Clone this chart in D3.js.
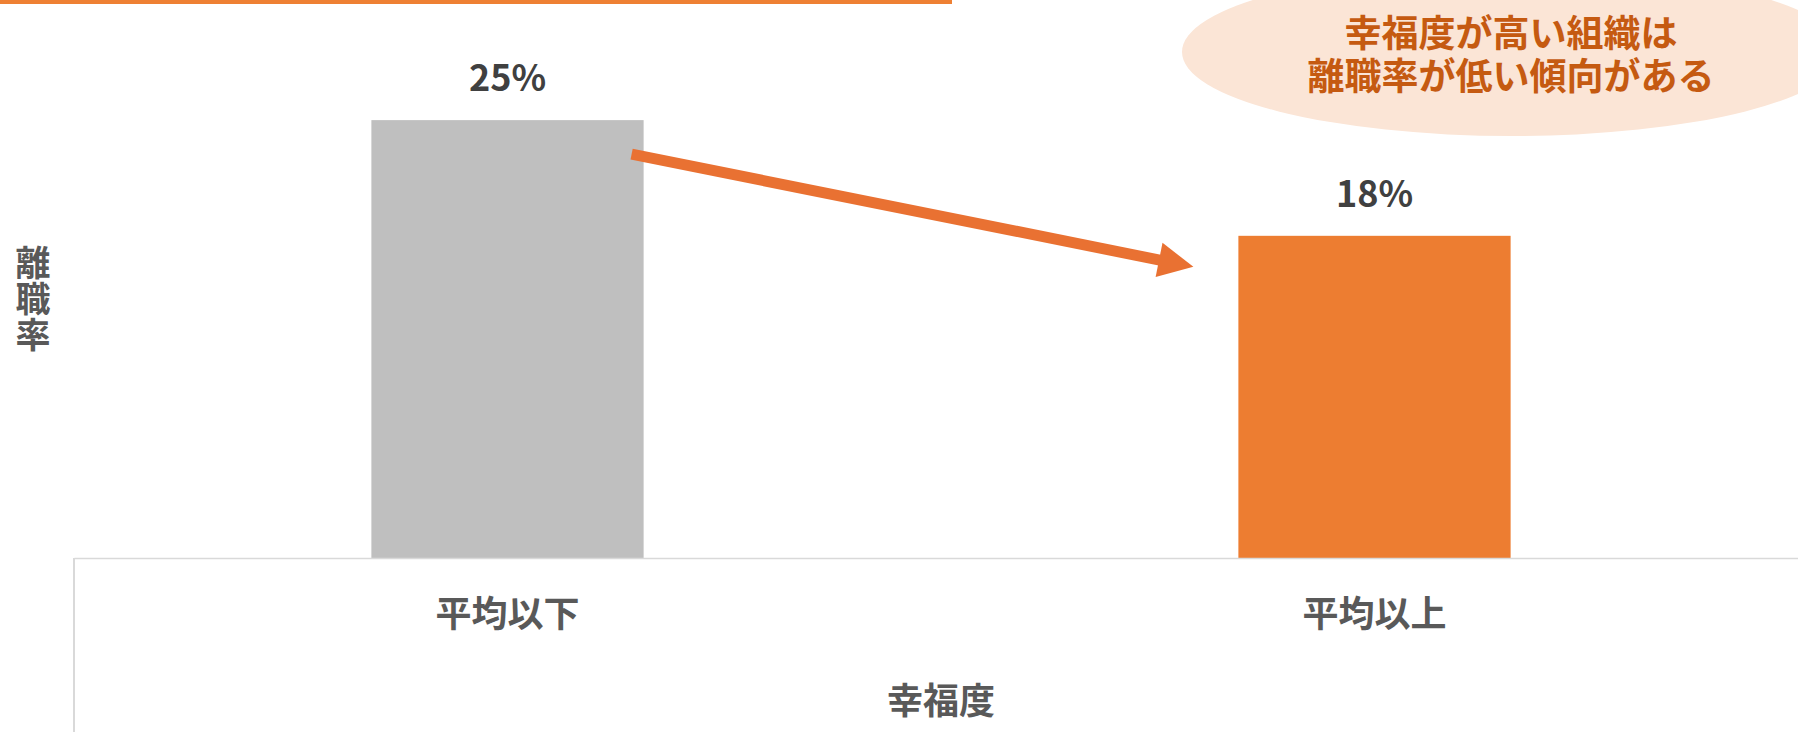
<!DOCTYPE html>
<html lang="ja">
<head>
<meta charset="utf-8">
<script src="https://cdn.jsdelivr.net/npm/d3@7"></script>
<style>
body { margin: 0; background: #fff; }
text { font-family: "Noto Sans CJK JP", "Noto Sans", sans-serif; }
</style>
</head>
<body>
<svg id="chart" width="1798" height="732"></svg>
<script>
// data
var categories = ["平均以下", "平均以上"];
var turnover = [0.246, 0.181];
var barColors = ["#bfbfbf", "#ed7d31"];
var xTitle = "幸福度";
var yTitle = "離職率";
var calloutLines = ["幸福度が高い組織は", "離職率が低い傾向がある"];

var svg = d3.select("#chart"),
    width = +svg.attr("width"),
    height = +svg.attr("height"),
    format = d3.format(".0%");

var baseY = 558;

var x = d3.scaleBand()
    .domain(categories)
    .range([74, 1808])
    .paddingInner(0.686)
    .paddingOuter(0.343);

var y = d3.scaleLinear()
    .domain([0, 0.3])
    .range([baseY, 24]);

// orange rule along the top
svg.append("rect")
    .attr("x", 0)
    .attr("y", 0)
    .attr("width", 952)
    .attr("height", 4)
    .attr("fill", "#ee8033");

// bars
svg.selectAll(".bar")
    .data(turnover)
  .enter().append("rect")
    .attr("class", "bar")
    .attr("x", function(d, i) { return x(categories[i]); })
    .attr("y", function(d) { return y(d); })
    .attr("width", x.bandwidth())
    .attr("height", function(d) { return baseY - y(d); })
    .attr("fill", function(d, i) { return barColors[i]; });

// value labels
svg.selectAll(".value")
    .data(turnover)
  .enter().append("text")
    .attr("class", "value")
    .attr("x", function(d, i) { return x(categories[i]) + x.bandwidth() / 2; })
    .attr("y", function(d) { return y(d) - 29; })
    .attr("text-anchor", "middle")
    .attr("font-size", 36)
    .attr("font-weight", "bold")
    .attr("fill", "#404040")
    .text(function(d) { return format(d); });

// category axis
var gx = svg.append("g")
    .attr("transform", "translate(0," + baseY + ")")
    .call(d3.axisBottom(x).tickSize(0).tickSizeOuter(0));

gx.select(".domain")
    .attr("stroke", "#d9d9d9")
    .attr("stroke-width", 1.5);

gx.selectAll(".tick text")
    .attr("y", 56)
    .attr("dy", "0.35em")
    .attr("font-size", 36)
    .attr("font-weight", "bold")
    .attr("font-family", "\"Noto Sans CJK JP\", sans-serif")
    .attr("fill", "#595959");

svg.append("line")
    .attr("x1", 74)
    .attr("x2", 74)
    .attr("y1", baseY)
    .attr("y2", height)
    .attr("stroke", "#d9d9d9")
    .attr("stroke-width", 2);

// axis titles
svg.append("text")
    .attr("x", (x.range()[0] + x.range()[1]) / 2)
    .attr("y", 701)
    .attr("dy", "0.35em")
    .attr("text-anchor", "middle")
    .attr("font-size", 36)
    .attr("font-weight", "bold")
    .attr("fill", "#595959")
    .text(xTitle);

svg.append("text")
    .attr("x", 33)
    .attr("y", 245)
    .attr("writing-mode", "vertical-rl")
    .style("text-orientation", "upright")
    .attr("font-size", 35)
    .attr("letter-spacing", 1)
    .attr("font-weight", "bold")
    .attr("fill", "#595959")
    .text(yTitle);

// arrow from the low-happiness bar to the high-happiness bar
var x0 = x(categories[0]) + x.bandwidth() - 12,
    y0 = y(turnover[0]) + 34,
    x1 = x(categories[1]) - 45,
    y1 = y(turnover[1]) + 31;

var ang = Math.atan2(y1 - y0, x1 - x0),
    headLen = 35,
    headHalf = 17.5,
    bx = x1 - headLen * Math.cos(ang),
    by = y1 - headLen * Math.sin(ang);

svg.append("line")
    .attr("x1", x0)
    .attr("y1", y0)
    .attr("x2", bx + 2 * Math.cos(ang))
    .attr("y2", by + 2 * Math.sin(ang))
    .attr("stroke", "#e97132")
    .attr("stroke-width", 11);

svg.append("path")
    .attr("fill", "#e97132")
    .attr("d", "M" + x1 + "," + y1
      + "L" + (bx - headHalf * Math.sin(ang)) + "," + (by + headHalf * Math.cos(ang))
      + "L" + (bx + headHalf * Math.sin(ang)) + "," + (by - headHalf * Math.cos(ang)) + "Z");

// callout bubble
svg.append("ellipse")
    .attr("cx", 1512)
    .attr("cy", 52)
    .attr("rx", 330)
    .attr("ry", 84)
    .attr("fill", "#fbe5d6");

svg.append("text")
    .attr("text-anchor", "middle")
    .attr("font-size", 37)
    .attr("font-weight", "bold")
    .attr("fill", "#c55a11")
  .selectAll("tspan")
    .data(calloutLines)
  .enter().append("tspan")
    .attr("x", 1511)
    .attr("y", function(d, i) { return 34 + i * 43; })
    .attr("dy", "0.35em")
    .text(function(d) { return d; });
</script>
</body>
</html>
